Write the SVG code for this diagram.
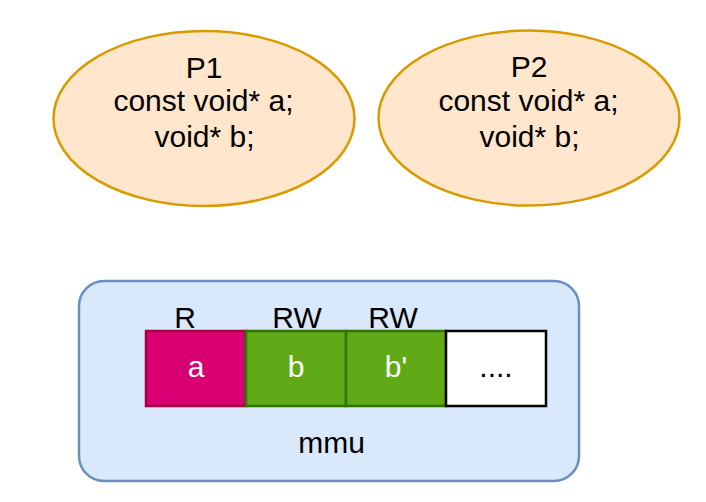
<svg xmlns="http://www.w3.org/2000/svg" width="706" height="502" viewBox="0 0 706 502">
<style>
text{font-family:"Liberation Sans",Arial,sans-serif;font-size:30px;text-anchor:middle;fill:#000}
.proc{fill:#ffe6cc;stroke:#d79b00;stroke-width:2.5}
.mmu{fill:#dae8fc;stroke:#6c8ebf;stroke-width:2.5}
.ro{fill:#d80073;stroke:#a50040;stroke-width:2.5}
.rw{fill:#60a917;stroke:#2d7600;stroke-width:2.5}
.free{fill:#fff;stroke:#000;stroke-width:2.5}
.w{fill:#fff}
</style>
<rect width="706" height="502" fill="#fff"/>
<g id="P1">
<ellipse class="proc" cx="204" cy="118.5" rx="150.5" ry="87.5"/>
<text x="204" y="77.5">P1</text>
<text x="203.5" y="111">const void* a;</text>
<text x="204.5" y="147">void* b;</text>
</g>
<g id="P2">
<ellipse class="proc" cx="529" cy="118" rx="150.5" ry="87.5"/>
<text x="529" y="77">P2</text>
<text x="528.5" y="110.5">const void* a;</text>
<text x="529.5" y="146.5">void* b;</text>
</g>
<g id="mmu">
<rect class="mmu" x="79" y="281" width="500" height="200" rx="25" ry="25"/>
<text x="331.5" y="453">mmu</text>
</g>
<g id="label-R"><text x="185" y="328">R</text></g>
<g id="label-RW1"><text x="297" y="328">RW</text></g>
<g id="label-RW2"><text x="393" y="328">RW</text></g>
<g id="cell-a">
<rect class="ro" x="146" y="331" width="100" height="75"/>
<text class="w" x="196" y="377">a</text>
</g>
<g id="cell-b">
<rect class="rw" x="246" y="331" width="100" height="75"/>
<text class="w" x="296" y="377">b</text>
</g>
<g id="cell-b2">
<rect class="rw" x="346" y="331" width="100" height="75"/>
<text class="w" x="396" y="377">b'</text>
</g>
<g id="cell-more">
<rect class="free" x="446" y="331" width="100" height="75"/>
<text x="496" y="377">....</text>
</g>
<g id="connectors"/>
</svg>
